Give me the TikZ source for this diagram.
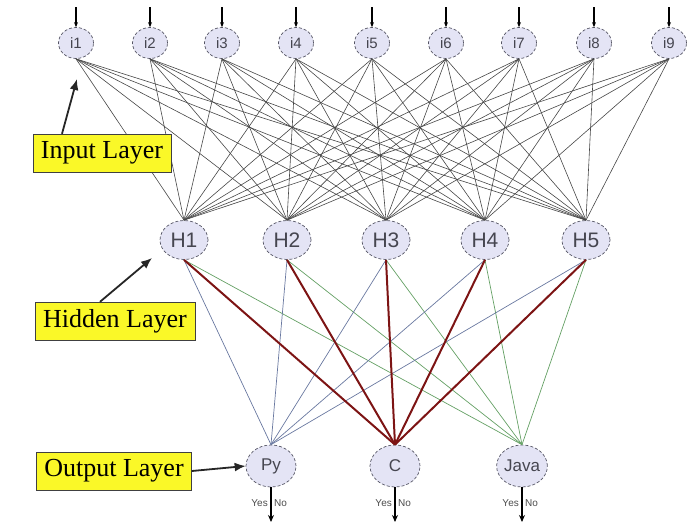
\documentclass[tikz,border=0pt]{standalone}
\usepackage{fontspec}
\setmainfont{Liberation Serif}
\setsansfont{Liberation Sans}
\usetikzlibrary{arrows.meta,shapes.geometric}
\definecolor{nodefill}{RGB}{228,228,245}
\definecolor{nodeborder}{RGB}{85,85,100}
\definecolor{nodetext}{RGB}{70,70,80}
\definecolor{lblyellow}{RGB}{250,248,40}
\definecolor{inedgecol}{RGB}{70,70,70}
\definecolor{pycol}{RGB}{105,120,160}
\definecolor{ccol}{RGB}{125,20,20}
\definecolor{javacol}{RGB}{100,160,100}
\begin{document}
\begin{tikzpicture}[x=1pt,y=-1pt,
  neuron/.style={ellipse, draw=nodeborder, densely dashed, line width=0.7pt, fill=nodefill, inner sep=0pt, text=nodetext},
  inneuron/.style={neuron, minimum width=35pt, minimum height=31pt, font=\sffamily\fontsize{15}{15}\selectfont},
  hidneuron/.style={neuron, minimum width=48pt, minimum height=39pt, font=\sffamily\fontsize{21}{21}\selectfont},
  outneuron/.style={neuron, minimum width=50pt, minimum height=42pt, font=\sffamily\fontsize{17}{17}\selectfont},
  layerbox/.style={draw=black!75, fill=lblyellow, font=\fontsize{26}{26}\selectfont, inner xsep=8pt, minimum height=38pt},
  inedge/.style={draw=inedgecol, line width=0.6pt},
  pyedge/.style={draw=pycol, line width=0.7pt},
  cedge/.style={draw=ccol, line width=2pt},
  javaedge/.style={draw=javacol, line width=0.7pt},
  smallarrow/.style={-{Stealth[length=5pt,width=4pt]}, line width=1.3pt, black},
  outarrow/.style={-{Stealth[length=7pt,width=6pt]}, line width=1.4pt, black},
  layerarrow/.style={-{Latex[length=11pt,width=9pt]}, line width=1.8pt, black!85},
  yn/.style={font=\sffamily\fontsize{10}{10}\selectfont, text=black!70, inner sep=2pt}
]
\useasboundingbox (0,0) rectangle (694,523);
% input layer
\foreach \n/\x in {1/76,2/150,3/222,4/296,5/372,6/446,7/519,8/594,9/669}{
  \node[inneuron] (i\n) at (\x,43) {i\n};
  \coordinate (t\n) at (\x,7);
  \draw[smallarrow] (t\n) -- (i\n.north);
}
% hidden layer
\foreach \n/\x in {1/184,2/287,3/386,4/485,5/586}{
  \node[hidneuron] (H\n) at (\x,240) {H\n};
}
% output layer
\node[outneuron] (o1) at (271,466) {Py};
\node[outneuron] (o2) at (395,466) {C};
\node[outneuron] (o3) at (522,466) {Java};
% input-hidden edges
\foreach \i in {1,...,9}{
  \foreach \h in {1,...,5}{
    \draw[inedge] (i\i.south) -- (H\h.north);
  }
}
% hidden-output edges
\foreach \h in {1,...,5}{
  \draw[pyedge] (H\h.south) -- (o1.north);
  \draw[javaedge] (H\h.south) -- (o3.north);
}
\foreach \h in {1,...,5}{
  \draw[cedge] (H\h.south) -- (o2.north);
}
% output arrows and labels
\foreach \n/\x in {1/271,2/395,3/522}{
  \coordinate (b\n) at (\x,522);
  \draw[outarrow] (o\n.south) -- (b\n);
  \node[yn, anchor=east] (yes\n) at (\x-1,503) {Yes};
  \node[yn, anchor=west] (no\n) at (\x+1,503) {No};
}
% layer labels
\node[layerbox] (inlbl) at (102,153) {Input Layer};
\node[layerbox] (hidlbl) at (115,321) {Hidden Layer};
\node[layerbox] (outlbl) at (114,471) {Output Layer};
\coordinate (inarr) at (77,79);
\coordinate (hidarr) at (152,258);
\draw[layerarrow] ([xshift=-40pt]inlbl.north) -- (inarr);
\draw[layerarrow] ([xshift=-15pt]hidlbl.north) -- (hidarr);
\draw[layerarrow] (outlbl.east) -- (o1.west);
\end{tikzpicture}
\end{document}
